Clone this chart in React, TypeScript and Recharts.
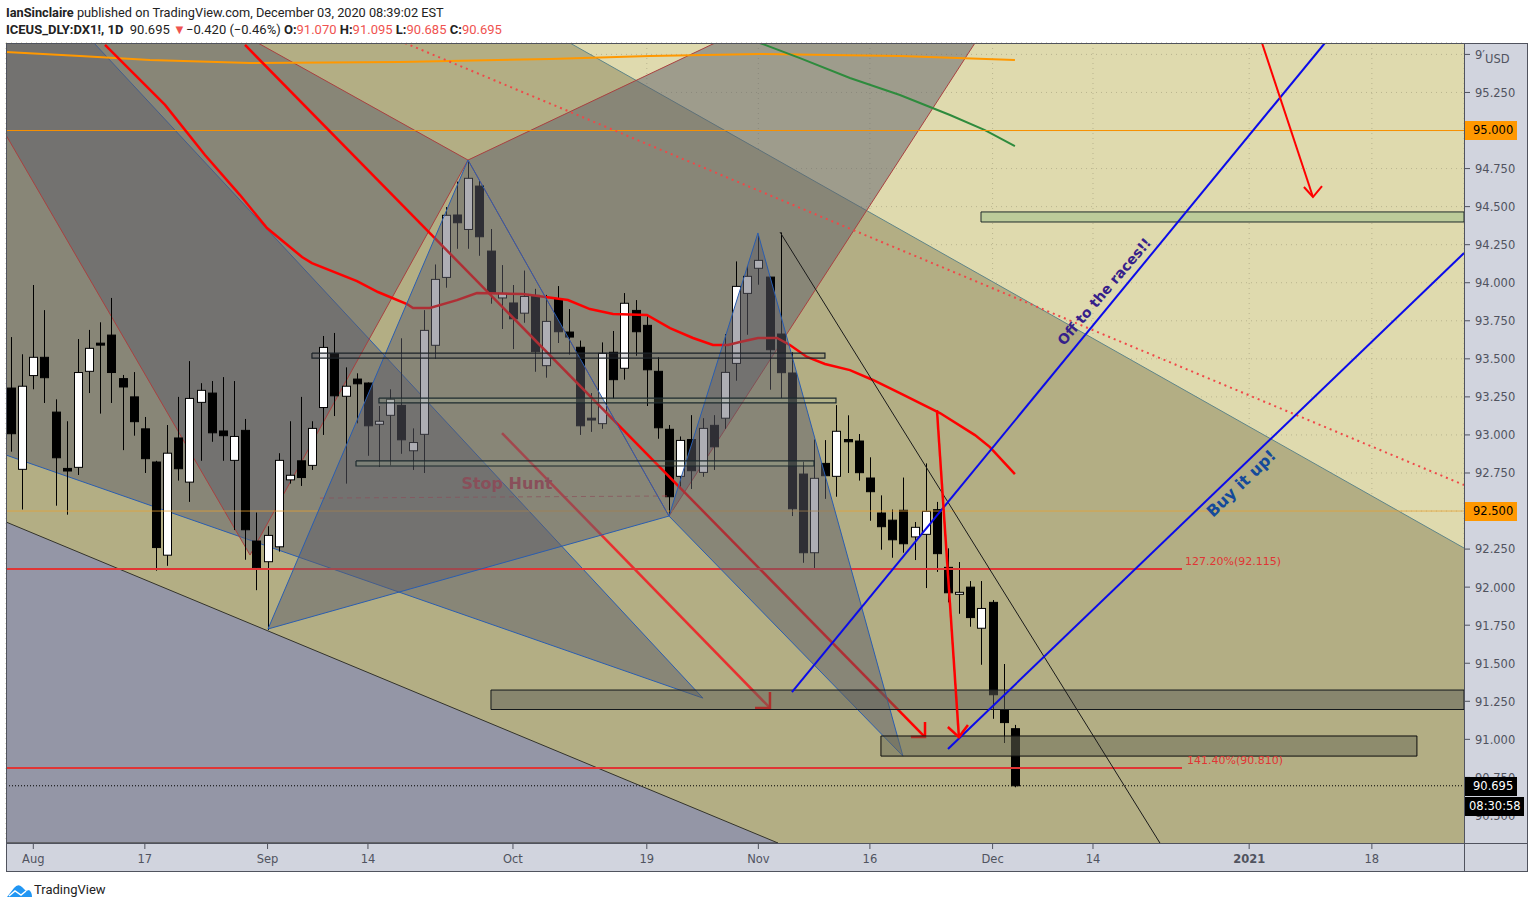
import { Bar, CartesianGrid, ComposedChart, Scatter, XAxis, YAxis } from "recharts";

type Pt = [number, number];

const opens = [93.308,92.774,93.39,93.51,93.15,92.78,92.787,93.418,93.603,93.656,93.37,93.25,93.04,92.822,92.21,92.98,92.69,93.214,93.275,93.026,92.833,93.03,92.303,92.167,92.265,92.705,92.83,92.8,93.18,93.534,93.254,93.367,93.341,93.07,93.129,93.194,92.896,93.004,93.589,94.035,94.445,94.35,94.635,94.208,93.90,93.867,93.80,93.917,93.455,93.893,93.676,93.576,93.11,93.074,93.543,93.438,93.818,93.72,93.418,93.037,92.728,92.97,92.754,93.063,93.11,93.47,93.93,94.095,94.037,93.663,93.407,92.743,92.226,92.813,92.728,92.97,92.96,92.717,92.487,92.44,92.505,92.33,92.347,92.509,92.13,91.953,92.0,91.73,91.90,91.195,91.07];
const highs = [93.643,93.53,93.985,93.82,93.234,93.09,93.63,93.69,93.74,93.9,93.394,93.413,93.118,92.83,93.065,93.25,93.485,93.34,93.354,93.38,93.354,93.105,92.49,92.40,92.88,93.09,93.25,93.09,93.65,93.67,93.444,93.405,93.345,93.19,93.30,93.635,93.043,93.82,94.12,94.497,94.664,94.795,94.67,94.353,94.116,93.985,94.08,93.96,93.92,93.978,93.827,93.62,93.275,93.608,93.683,93.932,93.886,93.78,93.51,93.065,92.99,93.13,93.11,93.13,93.663,94.14,94.11,94.31,94.04,94.33,93.543,92.824,92.97,92.966,93.196,93.129,93.006,92.853,92.603,92.51,92.72,92.428,92.813,92.56,92.255,92.165,92.04,92.04,91.915,91.495,91.095];
const lows = [92.89,92.51,93.30,93.21,92.535,92.476,92.737,93.275,93.14,93.21,92.9,92.995,92.75,92.108,92.14,92.70,92.56,92.83,92.955,92.83,92.375,92.18,91.98,91.718,92.233,92.68,92.665,92.77,93.0,93.124,92.68,93.076,92.863,92.79,92.80,92.876,92.77,92.75,93.50,93.967,94.223,94.223,94.177,93.862,93.696,93.564,93.737,93.415,93.376,93.604,93.527,93.0,93.02,93.04,93.24,93.363,93.52,93.19,92.975,92.474,92.66,92.645,92.725,92.77,93.04,93.356,93.658,93.987,93.297,93.242,92.467,92.16,92.123,92.58,92.594,92.75,92.70,92.436,92.246,92.193,92.226,92.178,91.994,92.10,91.90,91.825,91.74,91.49,91.135,90.976,90.685];
const closes = [93.008,93.32,93.51,93.376,92.85,92.763,93.41,93.569,93.59,93.41,93.315,93.087,92.844,92.26,92.88,92.778,93.24,93.293,93.014,92.995,92.99,92.377,92.127,92.34,92.833,92.735,92.72,93.043,93.575,93.257,93.32,93.336,93.06,93.09,93.234,92.968,92.95,93.687,94.022,94.443,94.394,94.686,94.302,93.93,93.93,93.763,93.91,93.547,93.746,93.678,93.643,93.06,93.098,93.536,93.363,93.865,93.678,93.428,93.047,92.594,92.964,92.765,93.043,92.922,93.411,93.976,94.042,94.147,93.56,93.409,92.515,92.226,92.715,92.732,93.024,92.955,92.752,92.627,92.397,92.311,92.285,92.393,92.498,92.22,91.963,91.966,91.80,91.86,91.293,91.11,90.695];

const dateTicks = [2, 12, 23, 32, 45, 57, 67, 77, 88, 97, 111, 122];
const dateLabels = ["Aug", "17", "Sep", "14", "Oct", "19", "Nov", "16", "Dec", "14", "2021", "18"];
const priceTicks = [90.5, 90.75, 91, 91.25, 91.5, 91.75, 92, 92.25, 92.5, 92.75, 93, 93.25, 93.5, 93.75, 94, 94.25, 94.5, 94.75, 95, 95.25, 95.5];

const xMin = -0.448;
const xMax = 130.26;
const yMin = 90.319;
const yMax = 95.575;

// drawings, as [bar index, price]
const midBand: Pt[] = [[xMin, yMax], [50.11, yMax], [xMax, 92.257], [xMax, yMin], [xMin, yMin], [xMin, yMax]];
const lowBand: Pt[] = [[xMin, 92.428], [68.76, yMin], [xMin, yMin], [xMin, 92.428]];
const leftWedge: Pt[] = [[xMin, yMax], [7.44, yMax], [62.03, 91.271], [xMin, 92.868], [xMin, yMax]];
const redWedge: Pt[] = [[xMin, 94.97], [21.43, 92.211], [40.97, 94.806], [22.14, yMax], [xMin, yMax], [xMin, 94.97]];
const redFan: Pt[] = [[40.97, 94.806], [63.11, yMax], [86.42, yMax], [58.99, 92.467], [40.97, 94.806]];
const patternXab: Pt[] = [[23.04, 91.725], [40.97, 94.806], [58.99, 92.467], [23.04, 91.725]];
const patternBcd: Pt[] = [[58.99, 92.467], [66.96, 94.327], [79.96, 90.89], [58.99, 92.467]];
const midBandEdge: Pt[] = [[50.11, yMax], [xMax, 92.257]];
const ma50: Pt[] = [[8.43,95.562],[13.81,95.168],[17.39,94.839],[20.53,94.576],[22.95,94.359],[26.09,94.169],[26.98,94.129],[31.02,94.011],[32.9,93.939],[35.5,93.86],[36.04,93.834],[37.56,93.834],[39.98,93.886],[41.77,93.932],[45.9,93.926],[49.93,93.886],[51.9,93.827],[53.97,93.794],[57.01,93.788],[59.08,93.702],[61.14,93.637],[62.93,93.591],[64.28,93.591],[65.35,93.61],[66.97,93.637],[68.67,93.637],[69.83,93.591],[71.36,93.512],[72.97,93.466],[75.21,93.426],[77.27,93.361],[79.69,93.275],[83.28,93.144],[86.42,92.999],[87.76,92.92],[90,92.743]];
const ma200: Pt[] = [[xMin,95.516],[6.19,95.49],[12.46,95.463],[21.43,95.444],[34.87,95.45],[48.32,95.47],[57.28,95.49],[67.14,95.503],[79.69,95.49],[90,95.463]];
const ma100: Pt[] = [[67.14,yMax],[70.73,95.476],[75.21,95.345],[79.69,95.233],[84.18,95.102],[87.31,95.003],[90,94.898]];
const arrowA: Pt[] = [[20.98,95.562],[81.94,91.015]];
const arrowAHead: Pt[] = [[81.94,91.114],[81.94,91.015],[80.68,91.015]];
const arrowB: Pt[] = [[44.02,93.012],[68.04,91.206]];
const arrowBHead: Pt[] = [[68.04,91.311],[68.04,91.206],[66.7,91.206]];
const arrowC: Pt[] = [[83.01,93.164],[84.98,91.015]];
const arrowCHead: Pt[] = [[83.99,91.081],[84.98,91.015],[85.79,91.094]];
const arrowD: Pt[] = [[112.15,yMax],[116.72,94.563]];
const arrowDHead: Pt[] = [[115.91,94.629],[116.72,94.563],[117.53,94.635]];
const fibUpper: Pt[] = [[xMin,92.12],[104.98,92.12]];
const fibLower: Pt[] = [[xMin,90.812],[104.98,90.812]];
const level95: Pt[] = [[xMin,95],[xMax,95]];
const level925: Pt[] = [[xMin,92.5],[xMax,92.5]];
const lastPrice: Pt[] = [[xMin,90.695],[xMax,90.695]];
const stopHuntLine: Pt[] = [[27.7,92.585],[59.08,92.599]];
const trendBlack: Pt[] = [[68.94,94.333],[103,yMin]];
const trendDotted: Pt[] = [[35.32,yMax],[xMax,92.671]];
const blueUpper: Pt[] = [[70.01,91.311],[117.79,yMax]];
const blueLower: Pt[] = [[84,90.936],[xMax,94.195]];

const box = (x1: number, x2: number, top: number, bottom: number): Pt[] => [[x1, top], [x2, top], [x2, bottom], [x1, bottom], [x1, top]];
const boxA = box(26.98, 72.97, 93.538, 93.505);
const boxB = box(32.99, 73.96, 93.242, 93.21);
const boxC = box(30.93, 71.99, 92.829, 92.796);
const boxD = box(86.96, xMax, 94.465, 94.399);
const boxE = box(43.03, xMax, 91.324, 91.196);
const boxF = box(77.99, 126.04, 91.022, 90.89);

const candles = opens.map((open, i) => ({ x: i, open, high: highs[i], low: lows[i], close: closes[i] }));
const pts = (list: Pt[]) => list.map(([x, y]) => ({ x, y }));

const SHADE = "#5d5d69";
const FONT = "'DejaVu Sans', sans-serif";
const HEAD_FONT = "Roboto, sans-serif";

const Candle = (props: any) => {
  const { x, y, width, height, payload } = props;
  const span = payload.high - payload.low;
  const py = (v: number) => y + ((payload.high - v) / span) * height;
  const up = payload.close >= payload.open;
  const top = py(Math.max(payload.open, payload.close));
  const bot = py(Math.min(payload.open, payload.close));
  const mid = Math.round(x + width / 2) + 0.5;
  return (
    <g>
      <line x1={mid} x2={mid} y1={y} y2={y + height} stroke="#000" strokeWidth={1} />
      <rect x={mid - 4} y={top} width={8} height={Math.max(bot - top, 1)} fill={up ? "#fff" : "#000"} stroke="#000" strokeWidth={1} />
    </g>
  );
};

const noDot = () => <g />;

function path(key: string, list: Pt[], z: number, style: any) {
  return (
    <Scatter
      key={key}
      data={pts(list)}
      dataKey="y"
      zIndex={z}
      isAnimationActive={false}
      shape={noDot}
      line={{ fill: "none", ...style }}
      legendType="none"
    />
  );
}

function note(key: string, at: Pt, text: string, z: number, style: any, rotate = 0) {
  const Label = (p: any) => (
    <text
      x={p.cx}
      y={p.cy}
      transform={rotate ? `rotate(${rotate} ${p.cx} ${p.cy})` : undefined}
      fontFamily={FONT}
      dominantBaseline="middle"
      {...style}
    >
      {text}
    </text>
  );
  return <Scatter key={key} data={pts([at])} dataKey="y" zIndex={z} isAnimationActive={false} shape={Label} />;
}

const DateTick = (p: any) => {
  const label = dateLabels[dateTicks.indexOf(p.payload.value)];
  return (
    <text x={p.x} y={p.y + 12} textAnchor="middle" fontFamily={FONT} fontSize={11.5} fontWeight={label === "2021" ? 700 : 400} fill="#50535e">
      {label}
    </text>
  );
};

const PriceTick = (p: any) => (
  <text x={p.x + 3} y={p.y + 4.4} fontFamily={FONT} fontSize={11.5} fill="#50535e">
    {p.payload.value === 95.5 ? "9′" : p.payload.value.toFixed(3)}
  </text>
);

const tag = (top: number, height: number, width: number, pad: number, bg: string, color: string, text: string) => (
  <div style={{ position: "absolute", left: 1465, top, width, height, background: bg, color, font: `11.5px/${height}px 'DejaVu Sans'`, paddingLeft: pad, boxSizing: "border-box", whiteSpace: "nowrap" }}>{text}</div>
);

const red = { color: "#ef5350" };

export default function App() {
  return (
    <div style={{ position: "absolute", left: 0, top: 0, width: 1535, height: 909, background: "#fff", overflow: "hidden" }}>
      <div style={{ position: "absolute", left: 6, top: 5, font: `12.75px/16px ${HEAD_FONT}`, color: "#222", whiteSpace: "nowrap" }}>
        <b>IanSinclaire</b> published on TradingView.com, December 03, 2020 08:39:02 EST
      </div>
      <div style={{ position: "absolute", left: 6, top: 22, font: `13px/16px ${HEAD_FONT}`, color: "#222", whiteSpace: "nowrap" }}>
        <b>ICEUS_DLY:DX1!, 1D</b> &nbsp;90.695 <span style={{ ...red, marginRight: -3 }}>▼</span> −0.420 (−0.46%) <b>O:</b><span style={red}>91.070</span> <b>H:</b><span style={red}>91.095</span> <b>L:</b><span style={red}>90.685</span> <b>C:</b><span style={red}>90.695</span>
      </div>

      <div style={{ position: "absolute", left: 6, top: 843, width: 1522, height: 29, background: "#d1d4de" }} />
      <div style={{ position: "absolute", left: 1464, top: 43, width: 64, height: 800, background: "#d1d4de" }} />

      <div style={{ position: "absolute", left: 0, top: 0 }}>
        <ComposedChart width={1535} height={909} data={candles} margin={{ top: 43, left: 6, right: 7, bottom: 37 }}>
          <CartesianGrid fill="#dfdaae" stroke="#b9b48f" strokeDasharray="1 4" />
          <XAxis
            type="number"
            dataKey="x"
            domain={[xMin, xMax]}
            ticks={dateTicks}
            height={29}
            allowDataOverflow
            axisLine={false}
            tickLine={{ stroke: "#50535e" }}
            tick={<DateTick />}
            interval={0}
          />
          <YAxis
            type="number"
            orientation="right"
            domain={[yMin, yMax]}
            ticks={priceTicks}
            width={64}
            allowDataOverflow
            axisLine={false}
            tickLine={{ stroke: "#50535e" }}
            tick={<PriceTick />}
            interval={0}
          />

          {path("midBand", midBand, 1, { fill: "#b3ae84", stroke: "none" })}
          {path("lowBand", lowBand, 2, { fill: "#9496a6", stroke: "#33332a", strokeWidth: 1 })}
          {path("midBandEdge", midBandEdge, 3, { stroke: "#5f8588", strokeWidth: 1 })}
          {path("leftWedge", leftWedge, 4, { fill: SHADE, fillOpacity: 0.5, stroke: "#2a5db0", strokeWidth: 1 })}
          {path("redWedge", redWedge, 5, { fill: SHADE, fillOpacity: 0.5, stroke: "#a84040", strokeWidth: 1 })}
          {path("redFan", redFan, 6, { fill: SHADE, fillOpacity: 0.5, stroke: "#a84040", strokeWidth: 1 })}

          {path("ma200", ma200, 7, { stroke: "#ff9800", strokeWidth: 2 })}
          {path("ma100", ma100, 7, { stroke: "#2e8b3d", strokeWidth: 2 })}
          {path("lastPrice", lastPrice, 7, { stroke: "#000", strokeWidth: 1, strokeDasharray: "1 2" })}

          <Bar dataKey={(d: any) => [d.low, d.high]} barSize={9} shape={<Candle />} isAnimationActive={false} zIndex={10} />

          {path("level95", level95, 11, { stroke: "#f79000", strokeWidth: 1 })}
          {path("level925", level925, 11, { stroke: "#e8a030", strokeOpacity: 0.75, strokeWidth: 1 })}
          {path("ma50", ma50, 11, { stroke: "#ff0000", strokeWidth: 2.5 })}
          {path("arrowA", arrowA, 11, { stroke: "#ff0000", strokeWidth: 2.5 })}
          {path("arrowAHead", arrowAHead, 11, { stroke: "#ff0000", strokeWidth: 2.5 })}
          {path("arrowB", arrowB, 11, { stroke: "#e83030", strokeWidth: 2.5 })}
          {path("arrowBHead", arrowBHead, 11, { stroke: "#ff0000", strokeWidth: 2.5 })}
          {path("fibUpper", fibUpper, 11, { stroke: "#e03535", strokeWidth: 2 })}
          {path("fibLower", fibLower, 11, { stroke: "#e03535", strokeWidth: 2 })}
          {path("stopHuntLine", stopHuntLine, 11, { stroke: "#b5404a", strokeOpacity: 0.7, strokeWidth: 1, strokeDasharray: "5 4" })}
          {note("stopHunt", [44.46, 92.677], "Stop Hunt", 11, { fill: "#b5404a", fontWeight: 700, fontSize: 16, textAnchor: "middle" })}

          {path("patternXab", patternXab, 12, { fill: SHADE, fillOpacity: 0.5, stroke: "#2a5db0", strokeWidth: 1 })}
          {path("patternBcd", patternBcd, 13, { fill: SHADE, fillOpacity: 0.5, stroke: "#2a5db0", strokeWidth: 1 })}

          {path("boxA", boxA, 14, { fill: "#5d6068", fillOpacity: 0.2, stroke: "#1d2328", strokeWidth: 1.2 })}
          {path("boxB", boxB, 14, { fill: "#b8cfa0", fillOpacity: 0.15, stroke: "#1d2a2e", strokeWidth: 1.2 })}
          {path("boxC", boxC, 14, { fill: "#b8cfa0", fillOpacity: 0.15, stroke: "#1d2a2e", strokeWidth: 1.2 })}
          {path("boxD", boxD, 14, { fill: "#bccb9a", stroke: "#1f2a2a", strokeWidth: 1 })}
          {path("boxE", boxE, 14, { fill: "#5d5d58", fillOpacity: 0.5, stroke: "#14181c", strokeWidth: 1 })}
          {path("boxF", boxF, 14, { fill: "#6a6a55", fillOpacity: 0.5, stroke: "#0c0c0c", strokeWidth: 1 })}

          {path("trendBlack", trendBlack, 15, { stroke: "#1a1a1a", strokeWidth: 1 })}
          {path("trendDotted", trendDotted, 15, { stroke: "#f04848", strokeWidth: 2, strokeDasharray: "2 4" })}
          {path("blueUpper", blueUpper, 15, { stroke: "#0b0bea", strokeWidth: 2 })}
          {path("blueLower", blueLower, 15, { stroke: "#0b0bea", strokeWidth: 2 })}
          {path("arrowC", arrowC, 16, { stroke: "#ff0000", strokeWidth: 2.5 })}
          {path("arrowCHead", arrowCHead, 16, { stroke: "#ff0000", strokeWidth: 2.5 })}
          {path("arrowD", arrowD, 16, { stroke: "#ff0000", strokeWidth: 2 })}
          {path("arrowDHead", arrowDHead, 16, { stroke: "#ff0000", strokeWidth: 2 })}

          {note("fibUpperText", [105.25, 92.165], "127.20%(92.115)", 16, { fill: "#e03535", fontSize: 11 })}
          {note("fibLowerText", [105.43, 90.857], "141.40%(90.810)", 16, { fill: "#e03535", fontSize: 11 })}
          {note("offText", [98.07, 93.939], "Off to the races!!", 16, { fill: "#35208a", fontWeight: 700, fontSize: 14, textAnchor: "middle" }, -49.5)}
          {note("buyText", [110.35, 92.677], "Buy it up!", 16, { fill: "#144a9a", fontWeight: 700, fontSize: 16, textAnchor: "middle" }, -43.7)}
        </ComposedChart>
      </div>

      <div style={{ position: "absolute", left: 1485, top: 52, font: "11.5px 'DejaVu Sans'", color: "#50535e" }}>USD</div>
      {tag(121, 19, 52, 8, "#ff9800", "#000", "95.000")}
      {tag(502, 19, 52, 8, "#ff9800", "#000", "92.500")}
      {tag(777, 19, 52, 8, "#000", "#fff", "90.695")}
      {tag(797, 19, 59, 4, "#000", "#fff", "08:30:58")}
      <div style={{ position: "absolute", left: 6, top: 43, width: 1522, height: 829, border: "1px solid #50535e", boxSizing: "border-box" }} />
      <div style={{ position: "absolute", left: 1464, top: 43, width: 1, height: 829, background: "#50535e" }} />
      <div style={{ position: "absolute", left: 6, top: 843, width: 1522, height: 1, background: "#50535e" }} />

      <svg style={{ position: "absolute", left: 6, top: 883 }} width={27} height={15}>
        <path d="M1 14 L8 5 Q12 0 16 4 L20 8 L23 7 Q26 9 26 14 Z" fill="#2196f3" />
        <path d="M3 13 L9 8 L15 12 L20 8" stroke="#fff" strokeWidth={1.5} fill="none" />
      </svg>
      <div style={{ position: "absolute", left: 34, top: 882, font: `13px/16px ${HEAD_FONT}`, color: "#222" }}>TradingView</div>
    </div>
  );
}
